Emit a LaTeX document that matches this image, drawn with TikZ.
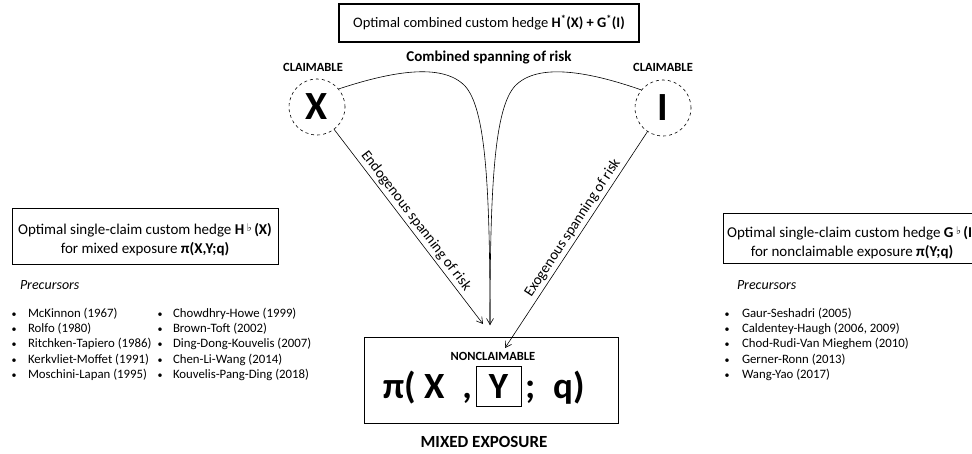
\documentclass[tikz,border=0pt]{standalone}
\usepackage{fontspec}
\setmainfont{Carlito}
\newfontfamily\djv{DejaVu Sans}
\usetikzlibrary{arrows.meta,shadows}
\newcommand{\flt}{\,\raisebox{0.45ex}{\djv\bfseries\fontsize{10.5}{10}\selectfont ♭}\,}
\begin{document}
\begin{tikzpicture}[x=1pt,y=-1pt,
  every node/.style={inner sep=0pt, outer sep=0pt},
  arr/.style={-{Straight Barb[length=6pt,width=7pt]}, line width=0.6pt},
  sbox/.style={draw, line width=0.7pt, fill=white, drop shadow={opacity=0.25, shadow xshift=1.2pt, shadow yshift=-1.2pt}},
  circ/.style={circle, draw, dashed, line width=0.6pt, minimum size=56pt},
  tag/.style={font=\bfseries\fontsize{12.5}{14}\selectfont},
  lst/.style={font=\fontsize{12.8}{14}\selectfont, anchor=base west},
  bul/.style={font=\fontsize{10}{12}\selectfont, anchor=base},
  lbl/.style={font=\fontsize{14.8}{16}\selectfont},
  boxtxt/.style={font=\fontsize{15}{17}\selectfont, align=center}
]
\useasboundingbox (0,0) rectangle (972,453);
\clip (0,0) rectangle (972,453);

% top box
\node[sbox, line width=1.5pt, minimum width=300pt, minimum height=38pt] (top) at (489,23)
  {\fontsize{14.5}{16}\selectfont Optimal combined custom hedge \textbf{H\textsuperscript{*}(X) + G\textsuperscript{*}(I)}};
\node[font=\bfseries\fontsize{15}{17}\selectfont] (comb) at (489,58) {Combined spanning of risk};

% circles
\node[circ] (X) at (317,107) {\bfseries\fontsize{40}{40}\selectfont X};
\node[circ] (I) at (663,108) {\bfseries\fontsize{40}{40}\selectfont I};
\node[tag] (cx) at (313,67) {CLAIMABLE};
\node[tag] (ci) at (663,67) {CLAIMABLE};

% mixed box
\node[sbox, minimum width=254pt, minimum height=86pt] (mix) at (491,380) {};
\node[tag] (nc) at (493,356) {NONCLAIMABLE};
\node[draw, line width=0.6pt, minimum width=45pt, minimum height=40pt, font=\bfseries\fontsize{37}{37}\selectfont] (Y) at (498.5,386) {Y};
\node[anchor=base east, font=\bfseries\fontsize{37}{37}\selectfont] (pa) at (472,398) {π( X\hspace{18pt},};
\node[anchor=base west, font=\bfseries\fontsize{37}{37}\selectfont] (pb) at (525,398) {;\hspace{18pt}q)};
\node[font=\bfseries\fontsize{17}{19}\selectfont] (me) at (484,442) {MIXED EXPOSURE};

% arrow targets
\coordinate (t0) at (490,325);
\coordinate (t1) at (483,324);
\coordinate (t2) at (505,348);
\coordinate (jl) at (465,86);
\coordinate (jr) at (515,86);

% curves
\draw[line width=0.6pt] (X.40) .. controls (390,72) and (442,62) .. (jl);
\draw[arr] (jl) .. controls (485,108) and (490,180) .. (t0);
\draw[line width=0.6pt] (I.140) .. controls (590,72) and (538,62) .. (jr);
\draw[line width=0.6pt] (jr) .. controls (495,108) and (490,180) .. (t0);

% straight lines
\draw[arr] (X) -- (t1) node[pos=0.5, sloped, above=3pt, lbl] {Endogenous spanning of risk};
\draw[arr] (I) -- (t2) node[pos=0.47, sloped, above=3pt, lbl] {Exogenous spanning of risk};

% left box
\node[sbox, minimum width=266pt, minimum height=56pt] (lb) at (145,236) {};
\node[boxtxt] (lbt) at (145,239.5)
  {Optimal single-claim custom hedge \textbf{H\flt(X)}\\[2pt] for mixed exposure \textbf{π(X,Y;q)}};

% right box
\node[sbox, minimum width=254pt, minimum height=50pt] (rb) at (850,238) {};
\node[boxtxt] (rbt) at (852,242.5)
  {Optimal single-claim custom hedge \textbf{G\flt(I)}\\[2pt] for nonclaimable exposure \textbf{π(Y;q)}};

% precursors left
\node[font=\itshape\fontsize{14}{16}\selectfont, anchor=base west] (pl) at (20,289) {Precursors};
\foreach \t [count=\i] in {McKinnon (1967), Rolfo (1980), Ritchken-Tapiero (1986), Kerkvliet-Moffet (1991), Moschini-Lapan (1995)}{
  \node[bul] (bl\i) at (14,{302+15.3*\i}) {•};
  \node[lst] (ll\i) at (28,{302+15.3*\i}) {\t};
}
\foreach \t [count=\i] in {Chowdhry-Howe (1999), Brown-Toft (2002), Ding-Dong-Kouvelis (2007), Chen-Li-Wang (2014), Kouvelis-Pang-Ding (2018)}{
  \node[bul] (bm\i) at (160,{302+15.3*\i}) {•};
  \node[lst] (lm\i) at (173,{302+15.3*\i}) {\t};
}
% precursors right
\node[font=\itshape\fontsize{14}{16}\selectfont, anchor=base west] (pr) at (737,289) {Precursors};
\foreach \t [count=\i] in {Gaur-Seshadri (2005), Caldentey-Haugh (2006{,} 2009), Chod-Rudi-Van Mieghem (2010), Gerner-Ronn (2013), Wang-Yao (2017)}{
  \node[bul] (br\i) at (727,{302+15.3*\i}) {•};
  \node[lst] (lr\i) at (742,{302+15.3*\i}) {\t};
}
\end{tikzpicture}
\end{document}
